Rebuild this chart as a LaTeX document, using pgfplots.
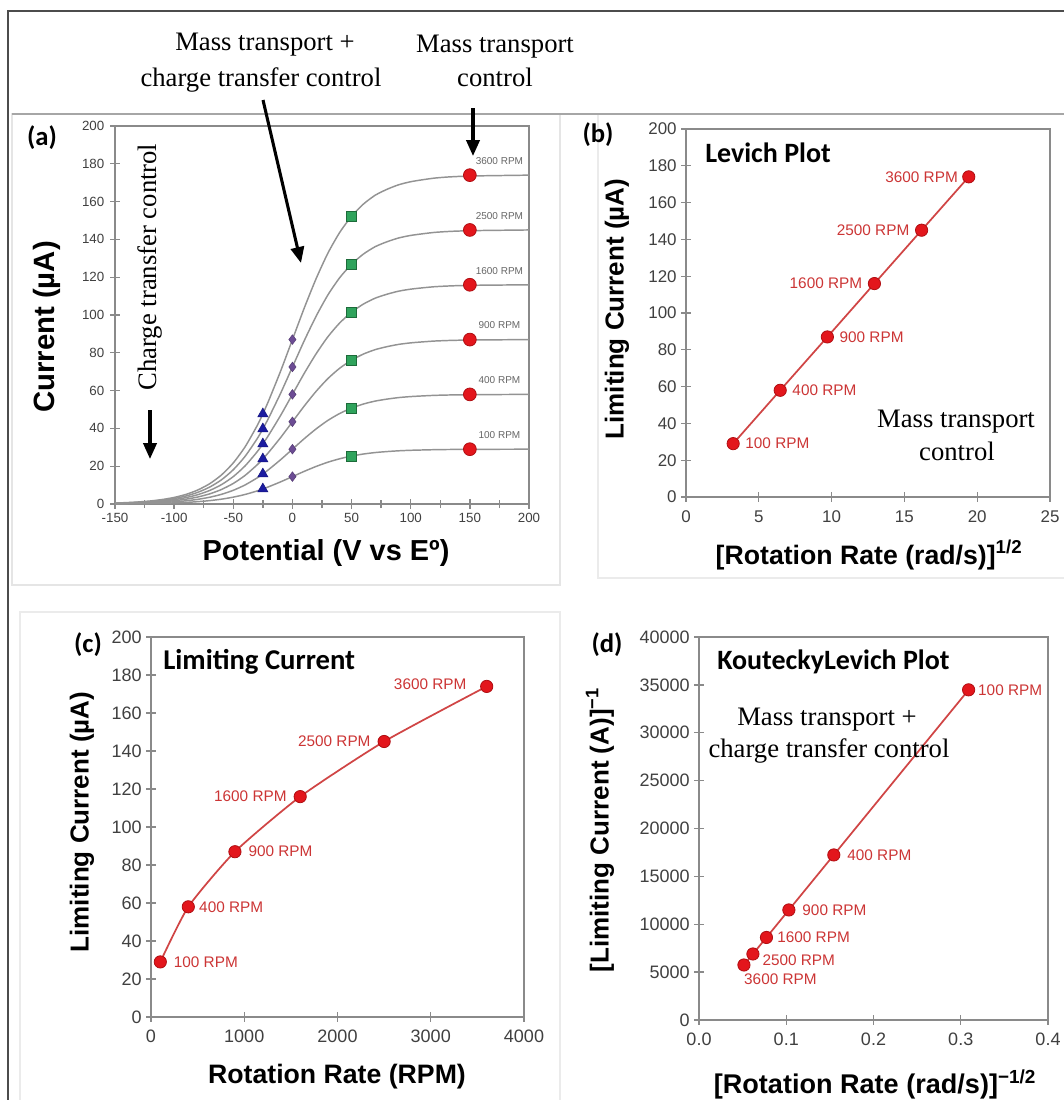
\documentclass[border=0pt]{standalone}
\usepackage{fontspec}
\setmainfont{Liberation Serif}
\newfontfamily\arial{Liberation Sans}
\newfontfamily\calibri{Carlito}
\usepackage{pgfplots}
\pgfplotsset{compat=1.18}
\usepackage{pgfplotstable}
\usetikzlibrary{arrows.meta}

\definecolor{axgray}{HTML}{8A8A8A}
\definecolor{ticktext}{HTML}{404040}
\definecolor{curvegray}{HTML}{939393}
\definecolor{mred}{HTML}{E3161C}
\definecolor{mredd}{HTML}{B00E12}
\definecolor{lred}{HTML}{D04545}
\definecolor{tred}{HTML}{CC3535}
\definecolor{mblue}{HTML}{1C1CA0}
\definecolor{mpurple}{HTML}{6C4C94}
\definecolor{mgreen}{HTML}{2FA35C}
\definecolor{mgreend}{HTML}{1D6B3A}
\definecolor{rpmgray}{HTML}{666666}

% current vs potential (a)
\pgfplotstableread{
E r100 r400 r900 r1600 r2500 r3600
-150 0.08 0.17 0.25 0.34 0.42 0.50
-140 0.13 0.25 0.37 0.50 0.62 0.75
-130 0.18 0.37 0.55 0.73 0.91 1.10
-120 0.27 0.54 0.81 1.08 1.35 1.62
-110 0.40 0.79 1.19 1.59 1.99 2.38
-100 0.58 1.16 1.74 2.32 2.90 3.48
-90 0.85 1.69 2.54 3.39 4.23 5.08
-80 1.24 2.47 3.71 4.94 6.18 7.41
-70 1.79 3.57 5.36 7.15 8.93 10.72
-60 2.56 5.12 7.68 10.24 12.80 15.36
-50 3.63 7.25 10.88 14.50 18.13 21.75
-40 5.05 10.09 15.14 20.18 25.23 30.28
-30 6.87 13.75 20.62 27.49 34.37 41.24
-25 7.95 15.89 23.84 31.78 39.73 47.68
-20 9.14 18.27 27.41 36.54 45.68 54.81
-10 11.72 23.43 35.15 46.86 58.58 70.30
0 14.50 29.00 43.50 58.00 72.50 87.00
10 17.28 34.57 51.85 69.14 86.42 103.70
20 19.87 39.73 59.60 79.46 99.33 119.19
30 22.13 44.25 66.38 88.51 110.64 132.76
40 23.95 47.91 71.86 95.82 119.77 143.72
50 25.38 50.75 76.13 101.50 126.88 152.25
60 26.45 52.90 79.34 105.79 132.24 158.69
70 27.23 54.46 81.69 108.92 136.16 163.39
80 27.75 55.51 83.26 111.01 138.77 166.52
90 28.16 56.32 84.48 112.64 140.80 168.95
100 28.42 56.84 85.26 113.68 142.10 170.52
110 28.59 57.19 85.78 114.38 142.97 171.56
120 28.74 57.48 86.22 114.96 143.70 172.43
130 28.83 57.65 86.48 115.30 144.13 172.96
140 28.88 57.77 86.65 115.54 144.42 173.30
150 28.91 57.83 86.74 115.65 144.57 173.48
160 28.94 57.88 86.83 115.77 144.71 173.65
180 28.97 57.94 86.91 115.88 144.86 173.83
200 29.00 58.00 87.00 116.00 145.00 174.00
}\curves

\pgfplotsset{
  panel/.style={
    scale only axis, anchor=south west, clip=false,
    axis line style={axgray, line width=1.1pt},
    every tick/.style={axgray, line width=1pt},
    major tick length=7pt, minor tick length=6pt,
    tick align=center, xtick pos=bottom, ytick pos=left,
    /pgf/number format/assume math mode=true,
    /pgf/number format/1000 sep={},
    scaled ticks=false,
    ticklabel style={text=ticktext, font=\arial\fontsize{13.5}{15}\selectfont},
  },
  redline/.style={lred, line width=1.3pt, mark=*, mark size=4.6pt,
    mark options={fill=mred, draw=mredd, line width=0.6pt}},
}
\tikzset{
  rpm/.style={text=tred, inner sep=0pt, font=\arial\fontsize{11.5}{13}\selectfont},
  rpma/.style={text=rpmgray, inner sep=0pt, font=\arial\fontsize{7.5}{9}\selectfont},
}

\begin{document}
\begin{tikzpicture}[x=0.75pt, y=-0.75pt]
\useasboundingbox (0,0) rectangle (1064,1100);
\fill[white] (0,0) rectangle (1064,1100);
% faint panel borders
\draw[black!10, line width=0.8pt] (12,114) rectangle (560,585);
\draw[black!8, line width=0.8pt] (598,114) -- (598,578) -- (1064,578);
\draw[black!8, line width=0.8pt] (20,1100) -- (20,612) -- (560,612) -- (560,1100);
% frame
\draw[black!70, line width=1.8pt] (8,1100) -- (8,11) -- (1064,11);
\draw[black!35, line width=1.1pt] (12,114) -- (1064,114);

% ---------------- (a)
\begin{axis}[panel, at={(86.25pt,-378pt)}, width=310.5pt, height=283.5pt,
  xmin=-150, xmax=200, ymin=0, ymax=200,
  xtick={-150,-100,...,200}, minor xtick={-125,-75,...,175},
  ytick={0,20,...,200},
  ticklabel style={font=\arial\fontsize{10}{12}\selectfont},
  yticklabel style={xshift=-1pt}]
\foreach \c in {r100,r400,r900,r1600,r2500,r3600}{
  \addplot[curvegray, line width=1.1pt, smooth, tension=0.4] table[x=E, y=\c] {\curves};
}
\addplot[only marks, mark=triangle*, mark size=4.4pt,
  mark options={fill=mblue, draw=mblue!80!black}] coordinates
  {(-25,7.95)(-25,15.89)(-25,23.84)(-25,31.78)(-25,39.73)(-25,47.68)};
\addplot[only marks, mark=diamond*, mark size=3.6pt,
  mark options={fill=mpurple, draw=mpurple!80!black}] coordinates
  {(0,14.5)(0,29)(0,43.5)(0,58)(0,72.5)(0,87)};
\addplot[only marks, mark=square*, mark size=3.7pt,
  mark options={fill=mgreen, draw=mgreend, line width=0.6pt}] coordinates
  {(50,25.38)(50,50.75)(50,76.13)(50,101.5)(50,126.88)(50,152.25)};
\addplot[only marks, mark=*, mark size=4.8pt,
  mark options={fill=mred, draw=mredd, line width=0.6pt}] coordinates
  {(150,29)(150,58)(150,87)(150,116)(150,145)(150,174)};
\node[rpma] at (axis cs:175,181.5) {3600 RPM};
\node[rpma] at (axis cs:175,152.5) {2500 RPM};
\node[rpma] at (axis cs:175,123.5) {1600 RPM};
\node[rpma] at (axis cs:175,94.5) {900 RPM};
\node[rpma] at (axis cs:175,65.5) {400 RPM};
\node[rpma] at (axis cs:175,36.5) {100 RPM};
\end{axis}

% ---------------- (b)
\begin{axis}[panel, at={(514.5pt,-372.75pt)}, width=273pt, height=276pt,
  xmin=0, xmax=25, ymin=0, ymax=200,
  xtick={0,5,...,25}, ytick={0,20,...,200},
  ticklabel style={font=\arial\fontsize{12.7}{14}\selectfont},
  xticklabel style={yshift=-3pt}]
\addplot[redline] coordinates
  {(3.24,29)(6.47,58)(9.71,87)(12.94,116)(16.18,145)(19.42,174)};
\node[rpm, anchor=east] at ([xshift=-8pt]axis cs:19.42,174) {3600 RPM};
\node[rpm, anchor=east] at ([xshift=-9pt]axis cs:16.18,145) {2500 RPM};
\node[rpm, anchor=east] at ([xshift=-9pt]axis cs:12.94,116) {1600 RPM};
\node[rpm, anchor=west] at ([xshift=9pt]axis cs:9.71,87) {900 RPM};
\node[rpm, anchor=west] at ([xshift=9pt]axis cs:6.47,58) {400 RPM};
\node[rpm, anchor=west] at ([xshift=9pt]axis cs:3.24,29) {100 RPM};
\end{axis}

% ---------------- (c)
\begin{axis}[panel, at={(113.25pt,-762.75pt)}, width=279.75pt, height=285pt,
  xmin=0, xmax=4000, ymin=0, ymax=200,
  xtick={0,1000,...,4000}, ytick={0,20,...,200},
  xticklabel style={yshift=-3pt}]
\addplot[redline, smooth, tension=0.35] coordinates
  {(100,29)(400,58)(900,87)(1600,116)(2500,145)(3600,174)};
\node[rpm, anchor=east] at ([xshift=-15pt, yshift=2pt]axis cs:3600,174) {3600 RPM};
\node[rpm, anchor=east] at ([xshift=-10pt]axis cs:2500,145) {2500 RPM};
\node[rpm, anchor=east] at ([xshift=-10pt]axis cs:1600,116) {1600 RPM};
\node[rpm, anchor=west] at ([xshift=10pt]axis cs:900,87) {900 RPM};
\node[rpm, anchor=west] at ([xshift=8pt]axis cs:400,58) {400 RPM};
\node[rpm, anchor=west] at ([xshift=10pt]axis cs:100,29) {100 RPM};
\end{axis}

% ---------------- (d)
\begin{axis}[panel, at={(524.25pt,-765pt)}, width=261.75pt, height=287.25pt,
  xmin=0, xmax=0.4, ymin=0, ymax=40000,
  xtick={0,0.1,0.2,0.3,0.4}, ytick={0,5000,...,40000},
  xticklabel style={yshift=-3pt, /pgf/number format/.cd, fixed, fixed zerofill, precision=1}]
\addplot[redline] coordinates
  {(0.0515,5747)(0.0618,6897)(0.0773,8621)(0.103,11494)(0.1545,17241)(0.309,34483)};
\node[rpm, anchor=west] at ([xshift=7pt]axis cs:0.309,34483) {100 RPM};
\node[rpm, anchor=west] at ([xshift=10pt]axis cs:0.1545,17241) {400 RPM};
\node[rpm, anchor=west] at ([xshift=10pt]axis cs:0.103,11494) {900 RPM};
\node[rpm, anchor=west] at ([xshift=8pt]axis cs:0.0773,8621) {1600 RPM};
\node[rpm, anchor=west] at ([xshift=7pt, yshift=-4.5pt]axis cs:0.0618,6897) {2500 RPM};
\node[rpm, anchor=north west] at ([yshift=-6.5pt]axis cs:0.0515,5747) {3600 RPM};
\end{axis}

% ---------------- axis labels
\node[font=\arial\bfseries\fontsize{22}{26}\selectfont, rotate=90] at (47,327) {Current (µA)};
\node[font=\arial\bfseries\fontsize{21.7}{26}\selectfont] at (326,553) {Potential (V vs Eº)};
\node[font=\arial\bfseries\fontsize{19.5}{24}\selectfont, rotate=90] at (617,309) {Limiting Current (µA)};
\node[font=\arial\bfseries\fontsize{20}{24}\selectfont] at (869,555) {[Rotation Rate (rad/s)]\textsuperscript{1/2}};
\node[font=\arial\bfseries\fontsize{19.5}{24}\selectfont, rotate=90] at (82,822) {Limiting Current (µA)};
\node[font=\arial\bfseries\fontsize{20}{24}\selectfont] at (337,1077) {Rotation Rate (RPM)};
\node[font=\arial\bfseries\fontsize{19.5}{24}\selectfont, rotate=90] at (600,830) {[Limiting Current (A)]\textsuperscript{−1}};
\node[font=\arial\bfseries\fontsize{20.3}{24}\selectfont] at (875,1084) {[Rotation Rate (rad/s)]\textsuperscript{−1/2}};

% panel letters and titles
\node[font=\calibri\bfseries\fontsize{20}{24}\selectfont] at (42,138) {(a)};
\node[font=\calibri\bfseries\fontsize{20}{24}\selectfont] at (598,135) {(b)};
\node[font=\calibri\bfseries\fontsize{20}{24}\selectfont] at (88,645) {(c)};
\node[font=\calibri\bfseries\fontsize{20}{24}\selectfont] at (607,645) {(d)};
\node[anchor=west, inner sep=0pt, font=\calibri\bfseries\fontsize{21}{24}\selectfont] at (705,153) {Levich Plot};
\node[anchor=west, inner sep=0pt, font=\calibri\bfseries\fontsize{21.5}{24}\selectfont] at (163,662) {Limiting Current};
\node[anchor=west, inner sep=0pt, font=\calibri\bfseries\fontsize{21}{24}\selectfont] at (717,662) {KouteckyLevich Plot};

% annotations
\node[anchor=base, inner sep=0pt, font=\fontsize{20}{24}\selectfont] at (265,50) {Mass transport +};
\node[anchor=base, inner sep=0pt, font=\fontsize{20}{24}\selectfont] at (261,86) {charge transfer control};
\node[anchor=base, inner sep=0pt, font=\fontsize{20}{24}\selectfont] at (495,52) {Mass transport};
\node[anchor=base, inner sep=0pt, font=\fontsize{20}{24}\selectfont] at (495,86) {control};
\node[rotate=90, inner sep=0pt, font=\fontsize{20}{24}\selectfont] at (150,267) {Charge transfer control};
\node[anchor=base, inner sep=0pt, font=\fontsize{20}{24}\selectfont] at (956,427) {Mass transport};
\node[anchor=base, inner sep=0pt, font=\fontsize{20}{24}\selectfont] at (957,460) {control};
\node[anchor=base, inner sep=0pt, font=\fontsize{20}{24}\selectfont] at (827,725) {Mass transport +};
\node[anchor=base, inner sep=0pt, font=\fontsize{20}{24}\selectfont] at (829,757) {charge transfer control};

\draw[line width=2.3pt, -{Triangle[length=12pt, width=10pt]}] (263,100) -- (301,263);
\draw[line width=2.3pt, -{Triangle[length=12pt, width=10pt]}] (473,108) -- (473,156);
\draw[line width=2.3pt, -{Triangle[length=12pt, width=10pt]}] (150,410) -- (150,459);
\end{tikzpicture}
\end{document}
